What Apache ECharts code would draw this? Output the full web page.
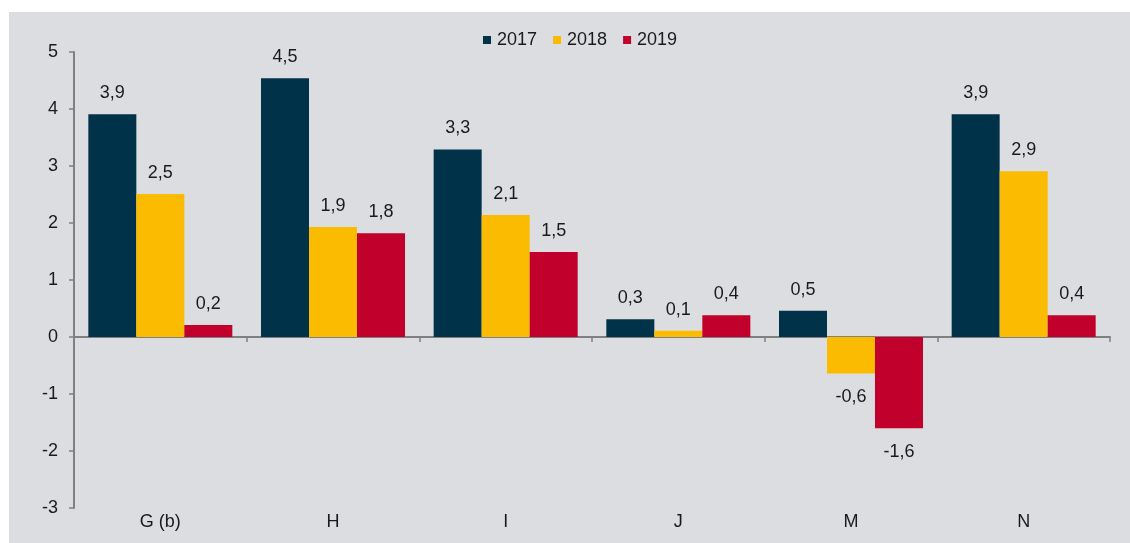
<!DOCTYPE html>
<html>
<head>
<meta charset="utf-8">
<script src="https://cdn.jsdelivr.net/npm/echarts@6/dist/echarts.min.js"></script>
<style>
  html, body { margin: 0; padding: 0; background: #ffffff; }
  #chart { position: absolute; left: 9px; top: 12px; width: 1121px; height: 531px; background: #dcdde0; }
</style>
</head>
<body>
<div id="chart"></div>
<script>
const categories = ["G (b)", "H", "I", "J", "M", "N"];
const years = ["2017", "2018", "2019"];
const values2017 = [3.91, 4.54, 3.29, 0.31, 0.46, 3.91];
const values2018 = [2.51, 1.93, 2.14, 0.11, -0.64, 2.91];
const values2019 = [0.21, 1.82, 1.49, 0.38, -1.6, 0.38];
const colors = ["#00324a", "#fbbb00", "#c1002b"];

const fontFamily = "'Liberation Sans', Arial, sans-serif";
const axisGray = "#808080";

const myChart = echarts.init(document.getElementById("chart"));

const fmt = (v) => v.toFixed(1).replace(".", ",");

const makeSeries = (name, data, idx) => ({
  name: name,
  type: "bar",
  xAxisIndex: 0,
  barGap: "0%",
  barCategoryGap: "16.6%",
  itemStyle: { color: colors[idx] },
  data: data.map((v) => ({
    value: v,
    label: {
      show: true,
      position: v < 0 ? "bottom" : "top",
      distance: v < 0 ? 15 : 12,
      formatter: () => fmt(v),
      color: "#1a1a1a",
      fontSize: 18,
      fontFamily: fontFamily
    }
  }))
});

const option = {
  animation: false,
  color: colors,
  legend: {
    data: years,
    left: 469,
    top: 14,
    itemWidth: 8,
    itemHeight: 8,
    itemGap: 16,
    icon: "rect",
    textStyle: { fontSize: 18, color: "#1a1a1a", fontFamily: fontFamily, padding: [0, 0, 0, 1] }
  },
  grid: {
    left: 65,
    right: 20,
    top: 40,
    bottom: 35
  },
  xAxis: [
    {
      type: "category",
      data: categories,
      position: "bottom",
      axisLine: { show: false, onZero: false },
      axisTick: { show: false },
      axisLabel: { color: "#1a1a1a", fontSize: 18, fontFamily: fontFamily, margin: 5 }
    },
    {
      type: "category",
      data: categories,
      position: "bottom",
      axisLine: { show: true, onZero: true, lineStyle: { color: axisGray, width: 2 } },
      axisTick: { show: true, length: 5, inside: false, lineStyle: { color: axisGray, width: 1.5 } },
      axisLabel: { show: false }
    }
  ],
  yAxis: {
    type: "value",
    min: -3,
    max: 5,
    interval: 1,
    axisLine: { show: true, lineStyle: { color: axisGray, width: 2 } },
    axisTick: { show: true, length: 5, lineStyle: { color: axisGray, width: 1.5 } },
    splitLine: { show: false },
    axisLabel: { color: "#1a1a1a", fontSize: 18, fontFamily: fontFamily, margin: 16 }
  },
  series: [
    makeSeries(years[0], values2017, 0),
    makeSeries(years[1], values2018, 1),
    makeSeries(years[2], values2019, 2)
  ]
};

myChart.setOption(option);
</script>
</body>
</html>
